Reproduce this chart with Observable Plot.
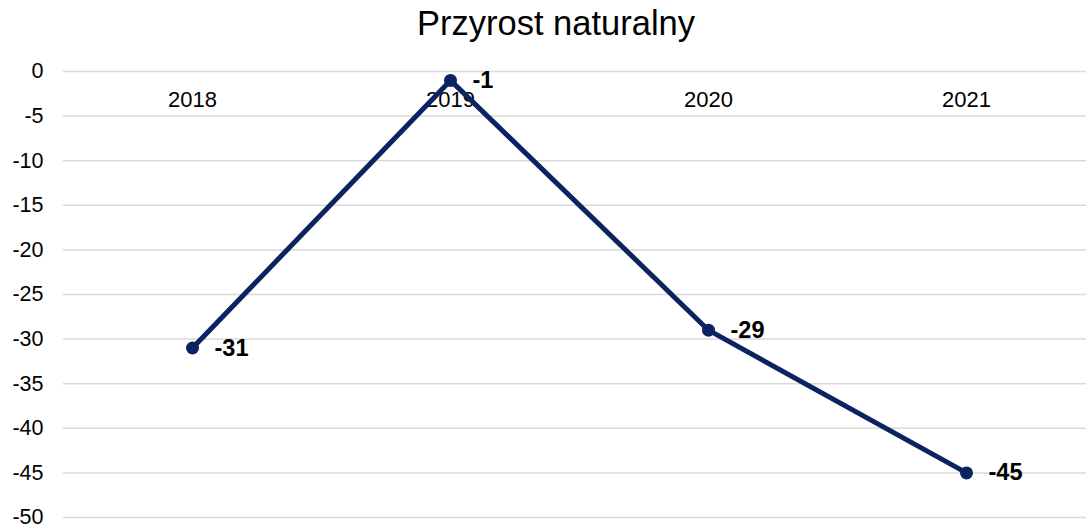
<!DOCTYPE html>
<html>
<head>
<meta charset="utf-8">
<script src="https://cdn.jsdelivr.net/npm/d3@7"></script>
<script src="https://cdn.jsdelivr.net/npm/@observablehq/plot@0.6"></script>
<style>
  html, body { margin: 0; padding: 0; background: #fff; }
  #title { width: 1086px; height: 42px; box-sizing: border-box; padding-top: 3px; padding-left: 26px; text-align: center;
    font-family: "Liberation Sans", Arial, sans-serif; font-size: 34.5px; line-height: 40px; color: #000; }
  #chart svg { display: block; }
</style>
</head>
<body>
<div id="title">Przyrost naturalny</div>
<div id="chart"></div>
<script>
const years = ["2018", "2019", "2020", "2021"];
const values = [-31, -1, -29, -45];
const yTicks = [0, -5, -10, -15, -20, -25, -30, -35, -40, -45, -50];

const data = years.map((year, i) => ({ year, value: values[i] }));
const yearLabels = years.map(year => ({ year, value: 0 }));
const lineColor = "#0b2361";

const chart = Plot.plot({
  width: 1086,
  height: 487,
  marginLeft: 63,
  marginRight: 0,
  marginTop: 29,
  marginBottom: 12,
  style: { fontFamily: "Liberation Sans, Arial, sans-serif", fontSize: "21px", color: "#000", background: "#fff" },
  x: { type: "point", domain: years, range: [192, 966], padding: 0, axis: null },
  y: { domain: [-50, 0], axis: null },
  marks: [
    Plot.ruleY(yTicks, { stroke: "#d9d9d9", strokeWidth: 1.5 }),
    Plot.axisY(yTicks, { tickSize: 0, tickPadding: 20, fontSize: 21.5, label: null, tickFormat: d => String(d), fill: "#000" }),
    Plot.text(yearLabels, { x: "year", y: "value", text: "year", dy: 28.5, fontSize: 22, fill: "#000" }),
    Plot.line(data, { x: "year", y: "value", stroke: lineColor, strokeWidth: 5 }),
    Plot.dot(data, { x: "year", y: "value", r: 6.5, fill: lineColor, stroke: null }),
    Plot.text(data, { x: "year", y: "value", text: d => String(d.value), dx: 22, textAnchor: "start", fontWeight: "bold", fontSize: 23.5, fill: "#000" })
  ]
});
document.getElementById("chart").appendChild(chart);
</script>
</body>
</html>
